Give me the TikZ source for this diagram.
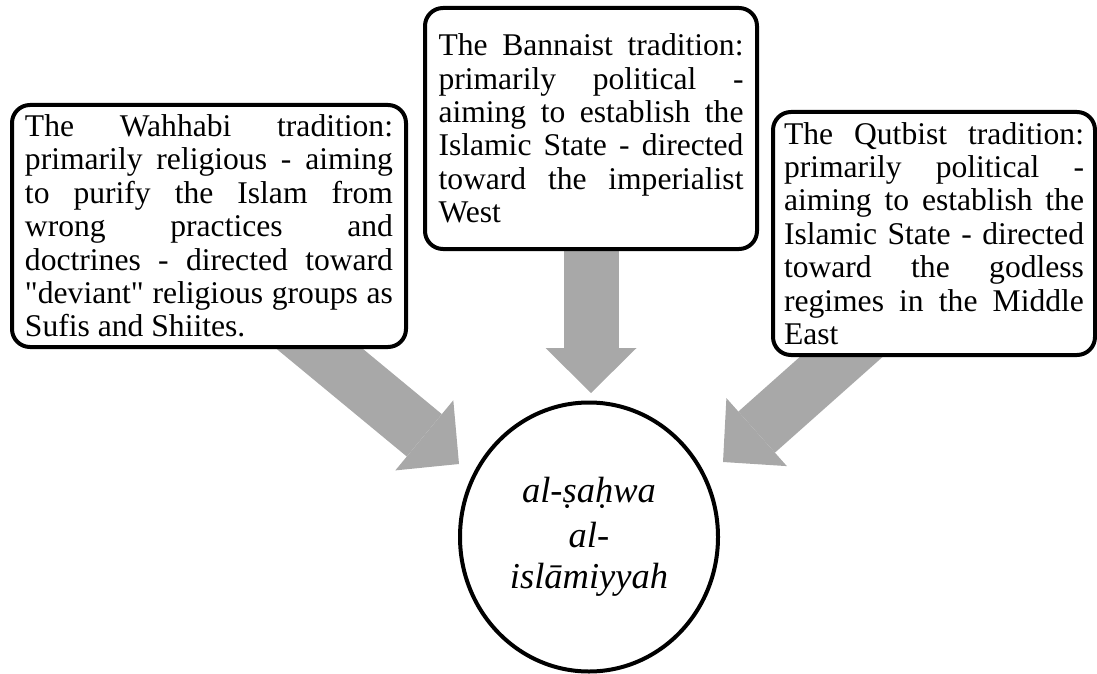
\documentclass[tikz,border=0pt]{standalone}
\usepackage{fontspec}
\setmainfont{Liberation Serif}[Ligatures=TeXOff]
\usetikzlibrary{arrows.meta, shapes.geometric}
\pgfdeclarelayer{back}
\pgfsetlayers{back,main}
\definecolor{flowgray}{RGB}{168,168,168}
\tolerance=10000
\hbadness=10000

\begin{document}
\begin{tikzpicture}[
    x=0.5pt, y=-0.5pt,
    trad/.style={rectangle, rounded corners=9pt, draw=black, line width=2pt, fill=white,
      align=justify, inner ysep=2pt, font=\fontsize{15.8pt}{16.7pt}\selectfont},
    core/.style={ellipse, draw=black, line width=2pt, fill=white, align=center,
      minimum width=129pt, minimum height=134.5pt, inner sep=0pt,
      font=\fontsize{18.25pt}{20.5pt}\selectfont\itshape},
    flow/.style={draw=flowgray, line width=27.5pt,
      -{Triangle[width=45.5pt, length=22.5pt, line width=0pt]}},
  ]
  \useasboundingbox (0,0) rectangle (1097,674);

  \node[trad, text width=184pt, inner xsep=6.5pt, minimum height=121pt] (wahhabi) at (209,226)
    {The Wahhabi tradition:\linebreak primarily religious - aiming\linebreak to purify the Islam from\linebreak
     wrong practices and\linebreak doctrines - directed toward\linebreak "deviant" religious groups as\linebreak
     Sufis and Shiites.};
  \node[trad, text width=152.5pt, inner xsep=6.75pt, minimum height=120.5pt] (bannaist) at (591,128.5)
    {The Bannaist tradition:\linebreak primarily political -\linebreak aiming to establish the\linebreak
     Islamic State - directed\linebreak toward the imperialist\linebreak West};
  \node[trad, text width=150pt, inner xsep=5.5pt, minimum height=121.5pt] (qutbist) at (934,233.5)
    {The Qutbist tradition:\linebreak primarily political -\linebreak aiming to establish the\linebreak
     Islamic State - directed\linebreak toward the godless\linebreak regimes in the Middle\linebreak East};

  \node[core] (sahwa) at (589,537) {al-ṣaḥwa\\[2pt]al-\\islāmiyyah};

  \coordinate (tipW) at (459,464);
  \coordinate (tipB) at (591,393);
  \coordinate (tipQ) at (723,462);

  \begin{pgfonlayer}{back}
    \draw[flow] ([shift={(54,-47)}]wahhabi.south) -- (tipW);
    \draw[flow] (bannaist) -- (tipB);
    \draw[flow] ([shift={(-31,-55)}]qutbist.south) -- (tipQ);
  \end{pgfonlayer}
\end{tikzpicture}
\end{document}
